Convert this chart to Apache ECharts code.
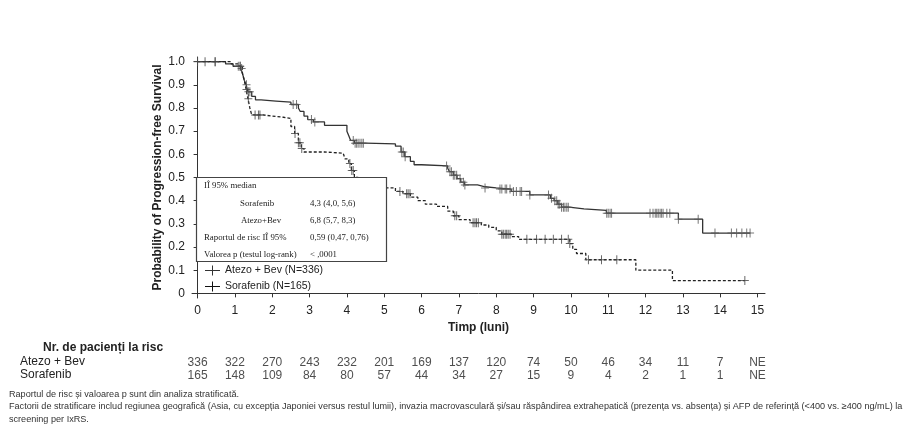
<!DOCTYPE html>
<html>
<head>
<meta charset="utf-8">
<script src="https://cdn.jsdelivr.net/npm/echarts@6/dist/echarts.min.js"></script>
<style>
  html, body { margin: 0; padding: 0; background: #fff; }
  #main { width: 920px; height: 433px; }
</style>
</head>
<body>
<div id="main"></div>
<script>
// Kaplan-Meier steps [month, probability]
const atezoKM = [
  [0, 1.0], [0.75, 0.99], [0.95, 0.98], [1.15, 0.97], [1.2, 0.95], [1.25, 0.92], [1.3, 0.9],
  [1.35, 0.87], [1.45, 0.85], [1.55, 0.835], [1.7, 0.83], [2.1, 0.825], [2.5, 0.815], [2.7, 0.8],
  [2.75, 0.785], [2.85, 0.765], [2.95, 0.75], [3.1, 0.74], [3.4, 0.725], [4.0, 0.7], [4.05, 0.68],
  [4.1, 0.66], [4.2, 0.648], [4.5, 0.645], [5.3, 0.635], [5.45, 0.61], [5.55, 0.59], [5.7, 0.57],
  [5.8, 0.555], [6.0, 0.55], [6.7, 0.54], [6.75, 0.525], [6.85, 0.51], [6.95, 0.495], [7.05, 0.48],
  [7.15, 0.468], [7.5, 0.46], [7.7, 0.455], [8.0, 0.45], [8.4, 0.44], [8.9, 0.425], [9.45, 0.41],
  [9.55, 0.4], [9.65, 0.385], [9.75, 0.372], [9.95, 0.365], [10.35, 0.358], [10.95, 0.346],
  [12.88, 0.32], [13.53, 0.26], [14.8, 0.26]
];
const sorafenibKM = [
  [0, 1.0], [0.9, 0.99], [1.1, 0.98], [1.2, 0.95], [1.25, 0.92], [1.3, 0.88], [1.35, 0.84],
  [1.4, 0.8], [1.45, 0.77], [1.75, 0.765], [2.0, 0.76], [2.3, 0.755], [2.5, 0.72], [2.6, 0.69],
  [2.7, 0.65], [2.78, 0.625], [2.85, 0.61], [3.4, 0.605], [3.9, 0.6], [3.95, 0.58], [4.05, 0.56],
  [4.12, 0.53], [4.2, 0.5], [4.3, 0.49], [4.55, 0.478], [4.8, 0.465], [5.0, 0.455], [5.3, 0.44],
  [5.5, 0.43], [5.7, 0.415], [5.9, 0.4], [6.1, 0.385], [6.4, 0.375], [6.7, 0.355], [6.85, 0.335],
  [7.0, 0.318], [7.3, 0.305], [7.6, 0.295], [7.8, 0.285], [8.0, 0.27], [8.15, 0.255], [8.4, 0.245],
  [8.6, 0.233], [9.97, 0.215], [10.05, 0.19], [10.15, 0.172], [10.4, 0.145], [11.74, 0.1],
  [12.72, 0.055], [14.66, 0.055]
];

// censoring times (months)
const atezoCensor = [
  0, 0.47, 1.09, 1.14, 1.18, 1.31, 1.36, 1.4, 2.56, 2.65, 3.05, 3.14, 4.17, 4.22, 4.26, 4.3,
  4.35, 4.4, 4.44, 5.47, 5.51, 5.56, 6.67, 6.76, 6.8, 6.85, 6.89, 6.94, 7.03, 7.12, 7.16, 7.7,
  8.1, 8.15, 8.24, 8.28, 8.37, 8.46, 8.54, 8.64, 8.68, 8.9, 9.4, 9.48, 9.57, 9.62, 9.66, 9.7,
  9.75, 9.8, 9.84, 9.89, 9.93, 10.96, 11.0, 11.05, 11.09, 12.12, 12.2, 12.26, 12.3, 12.34, 12.39,
  12.43, 12.47, 12.57, 12.65, 12.88, 13.41, 13.86, 14.3, 14.44, 14.58, 14.71, 14.8
];
const sorafenibCensor = [
  0.2, 0.47, 1.14, 1.31, 1.36, 1.54, 1.63, 1.67, 2.61, 2.7, 2.74, 2.79, 4.08, 4.13, 4.17,
  5.42, 5.6, 5.64, 5.69, 6.89, 6.94, 7.38, 7.43, 7.47, 7.52, 8.15, 8.19, 8.24, 8.28, 8.32, 8.37,
  8.82, 9.08, 9.31, 9.53, 9.75, 9.93, 9.97, 10.47, 10.82, 11.23, 14.66
];

const xTicks = [0, 1, 2, 3, 4, 5, 6, 7, 8, 9, 10, 11, 12, 13, 14, 15];
const yTicks = [0, 0.1, 0.2, 0.3, 0.4, 0.5, 0.6, 0.7, 0.8, 0.9, 1.0];

const riskTimes = xTicks;
const atezoRisk = ['336', '322', '270', '243', '232', '201', '169', '137', '120', '74', '50', '46', '34', '11', '7', 'NE'];
const sorafenibRisk = ['165', '148', '109', '84', '80', '57', '44', '34', '27', '15', '9', '4', '2', '1', '1', 'NE'];

const atezoName = 'Atezo + Bev (N=336)';
const sorafenibName = 'Sorafenib (N=165)';

const sans = '"Liberation Sans", Arial, sans-serif';
const serif = '"Liberation Serif", "Times New Roman", serif';
const ink = '#222';

// value of a step curve at time t
const stepAt = (km, t) => {
    let v = km[0][1];
    for (const [x, y] of km) {
        if (x <= t) v = y;
    }
    return v;
};

const cross = 'path://M3.5,0H4.5V9H3.5Z M0,4H8V5H0Z';
const legendCross = 'path://M0,4.4H15V5.6H0Z M7,0H8V10H7Z';

const chart = echarts.init(document.getElementById('main'));

const riskRow = (values, row) => values.map((v, i) => [riskTimes[i], row, v]);

chart.setOption({
    animation: false,
    textStyle: { fontFamily: sans },
    grid: [
        { left: 192, right: 155, top: 57, bottom: 135 },
        { left: 192, right: 155, top: 356, height: 26 }
    ],
    legend: {
        orient: 'vertical',
        left: 205,
        top: 265,
        padding: 0,
        itemWidth: 15,
        itemHeight: 10,
        itemGap: 5,
        textStyle: { fontFamily: sans, fontSize: 10.5, color: ink },
        data: [
            { name: atezoName, icon: legendCross, itemStyle: { color: '#333' } },
            { name: sorafenibName, icon: legendCross, itemStyle: { color: '#111' } }
        ]
    },
    xAxis: [
        {
            type: 'value',
            gridIndex: 0,
            min: -0.15,
            max: 15.2,
            name: 'Timp (luni)',
            nameLocation: 'middle',
            nameGap: 24,
            nameTextStyle: { fontFamily: sans, fontSize: 12, fontWeight: 'bold', color: ink },
            axisLine: { lineStyle: { color: '#333', width: 1 } },
            axisTick: { customValues: xTicks, length: 4, lineStyle: { color: '#333' } },
            axisLabel: { customValues: xTicks, fontSize: 12, color: ink, margin: 7 },
            splitLine: { show: false }
        },
        {
            type: 'value',
            gridIndex: 1,
            min: -0.15,
            max: 15.2,
            show: false
        }
    ],
    yAxis: [
        {
            type: 'value',
            gridIndex: 0,
            min: -0.02,
            max: 1.02,
            name: 'Probability of Progression-free Survival',
            nameLocation: 'middle',
            nameGap: 28,
            nameMoveOverlap: false,
            nameTextStyle: { fontFamily: sans, fontSize: 12, fontWeight: 'bold', color: ink },
            axisLine: { show: true, lineStyle: { color: '#333', width: 1 } },
            axisTick: { show: true, customValues: yTicks, length: 4, lineStyle: { color: '#333' } },
            axisLabel: {
                customValues: yTicks,
                fontSize: 12,
                color: ink,
                margin: 7,
                formatter: (v) => (v === 0 ? '0' : v.toFixed(1))
            },
            splitLine: { show: false }
        },
        {
            type: 'category',
            gridIndex: 1,
            data: ['Atezo + Bev', 'Sorafenib'],
            inverse: true,
            show: false
        }
    ],
    series: [
        {
            name: atezoName,
            type: 'line',
            step: 'end',
            symbol: 'none',
            data: atezoKM,
            lineStyle: { color: '#333', width: 1.3 },
            itemStyle: { color: '#333' },
            z: 3
        },
        {
            name: sorafenibName,
            type: 'line',
            step: 'end',
            symbol: 'none',
            data: sorafenibKM,
            lineStyle: { color: '#222', width: 1.3, type: [3, 2] },
            itemStyle: { color: '#222' },
            z: 3
        },
        {
            name: atezoName,
            type: 'scatter',
            symbol: cross,
            symbolSize: [8, 9],
            data: atezoCensor.map((t) => [t, stepAt(atezoKM, t)]),
            itemStyle: { color: '#555' },
            z: 4
        },
        {
            name: sorafenibName,
            type: 'scatter',
            symbol: cross,
            symbolSize: [8, 9],
            data: sorafenibCensor.map((t) => [t, stepAt(sorafenibKM, t)]),
            itemStyle: { color: '#444' },
            z: 4
        },
        {
            name: 'risk',
            type: 'scatter',
            xAxisIndex: 1,
            yAxisIndex: 1,
            symbolSize: 0,
            silent: true,
            data: riskRow(atezoRisk, 'Atezo + Bev').concat(riskRow(sorafenibRisk, 'Sorafenib')),
            label: {
                show: true,
                position: 'inside',
                fontFamily: sans,
                fontSize: 12,
                color: ink,
                formatter: (p) => p.value[2]
            }
        }
    ],
    graphic: [
        {
            type: 'rect',
            shape: { x: 196.5, y: 177.5, width: 190, height: 84 },
            style: { fill: '#fff', stroke: '#444', lineWidth: 1.2 },
            z: 10
        },
        {
            type: 'group',
            z: 11,
            children: [
                ['IÎ 95% median', 204, 186],
                ['Sorafenib', 240, 204],
                ['4,3 (4,0, 5,6)', 310, 204],
                ['Atezo+Bev', 241, 221],
                ['6,8 (5,7, 8,3)', 310, 221],
                ['Raportul de risc IÎ 95%', 204, 238],
                ['0,59 (0,47, 0,76)', 310, 238],
                ['Valorea p (testul log-rank)', 204, 255],
                ['< ,0001', 310, 255]
            ].map(([text, x, y]) => ({
                type: 'text',
                x: x,
                y: y,
                z: 11,
                style: { text: text, fontFamily: serif, fontSize: 8.8, fill: '#222', verticalAlign: 'middle' }
            }))
        },
        {
            type: 'text', left: 43, top: 342,
            style: { text: 'Nr. de pacienți la risc', fontFamily: sans, fontSize: 12, fontWeight: 'bold', fill: ink }
        },
        {
            type: 'text', left: 20, top: 356,
            style: { text: 'Atezo + Bev', fontFamily: sans, fontSize: 12, fill: ink }
        },
        {
            type: 'text', left: 20, top: 369,
            style: { text: 'Sorafenib', fontFamily: sans, fontSize: 12, fill: ink }
        },
        {
            type: 'text', left: 9, top: 388,
            style: {
                text: 'Raportul de risc și valoarea p sunt din analiza stratificată.\n' +
                    'Factorii de stratificare includ regiunea geografică (Asia, cu excepția Japoniei versus restul lumii), invazia macrovasculară și/sau răspândirea extrahepatică (prezența vs. absența) și AFP de referință (<400 vs. ≥400 ng/mL) la\n' +
                    'screening per IxRS.',
                fontFamily: sans, fontSize: 9.1, lineHeight: 12.5, fill: '#333'
            }
        }
    ]
});

window.addEventListener('resize', chart.resize);
</script>
</body>
</html>
